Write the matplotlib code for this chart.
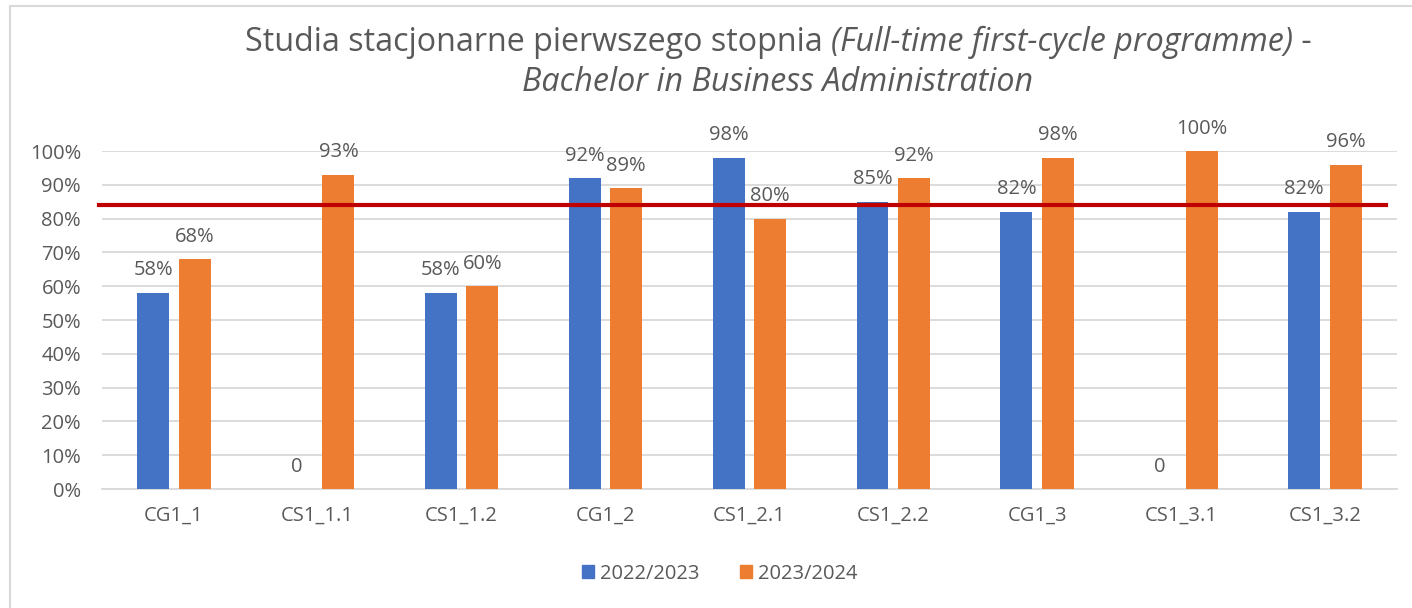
import numpy as np
import matplotlib.pyplot as plt
from matplotlib.offsetbox import TextArea, HPacker, VPacker, AnchoredOffsetbox
from matplotlib.patches import Patch
from matplotlib.lines import Line2D
from matplotlib.ticker import PercentFormatter

# chart data
categories = ["CG1_1", "CS1_1.1", "CS1_1.2", "CG1_2", "CS1_2.1", "CS1_2.2", "CG1_3", "CS1_3.1", "CS1_3.2"]
series_names = ["2022/2023", "2023/2024"]
vals_2223 = [58, 0, 58, 92, 98, 85, 82, 0, 82]
vals_2324 = [68, 93, 60, 89, 80, 92, 98, 100, 96]
threshold = 84

blue = "#4472c4"
orange = "#ed7d31"
grey_txt = "#595959"
grid_col = "#d9d9d9"

plt.rcParams['font.family'] = ['Open Sans', 'DejaVu Sans']

fig = plt.figure(figsize=(14.12, 6.08), dpi=100)
ax = fig.add_axes([0.0722, 0.1957, 0.917, 0.5559])

x = np.arange(len(categories))
w = 0.222
off = 0.144
b1 = ax.bar(x - off, vals_2223, w, color=blue, zorder=3)
b2 = ax.bar(x + off, vals_2324, w, color=orange, zorder=3)

for bars, vals in ((b1, vals_2223), (b2, vals_2324)):
    for r, v in zip(bars, vals):
        lab = f"{v}%" if v else "0"
        ax.annotate(lab, (r.get_x() + r.get_width() / 2, v), xytext=(0, 9),
                    textcoords="offset points", ha="center", va="bottom",
                    fontsize=14.5, color=grey_txt)

# target line
ax.axhline(threshold, xmin=-0.002, xmax=0.992, color="#c00000", lw=3, zorder=4, clip_on=False)

ax.set_xlim(-0.5, len(categories) - 0.5)
ax.set_ylim(0, 100)
ax.set_yticks(np.arange(0, 101, 10))
ax.yaxis.set_major_formatter(PercentFormatter(decimals=0))
ax.set_xticks(x)
ax.set_xticklabels(categories)
ax.tick_params(axis="both", length=0, labelsize=14.5, colors=grey_txt)
ax.tick_params(axis="x", pad=12)
ax.tick_params(axis="y", pad=15)
ax.grid(axis="y", color=grid_col, lw=1.3, zorder=0)
for s in ["top", "right", "left"]:
    ax.spines[s].set_visible(False)
ax.spines["bottom"].set_color(grid_col)
ax.spines["bottom"].set_linewidth(1.3)

# title with mixed italic
tkw = dict(fontsize=23.2, color=grey_txt)
line1 = HPacker(children=[
    TextArea("Studia stacjonarne pierwszego stopnia ", textprops=tkw),
    TextArea("(Full-time first-cycle programme)", textprops=dict(style="italic", **tkw)),
    TextArea(" -", textprops=tkw),
], pad=0, sep=0)
line2 = TextArea("Bachelor in Business Administration", textprops=dict(style="italic", **tkw))
title_box = VPacker(children=[line1, line2], align="center", pad=0, sep=5)
anch = AnchoredOffsetbox(loc="center", child=title_box, frameon=False,
                         bbox_to_anchor=(0.551, 0.898), bbox_transform=fig.transFigure)
fig.add_artist(anch)

# legend
handles = [Patch(color=blue), Patch(color=orange)]
fig.legend(handles, series_names, loc="center", bbox_to_anchor=(0.51, 0.056), ncol=2,
           frameon=False, fontsize=14.5, labelcolor=grey_txt, handlelength=0.6,
           handleheight=0.6, columnspacing=2.0, handletextpad=0.3)

# chart border (top and left visible)
fig.add_artist(Line2D([10 / 1412, 1], [1 - 6 / 608, 1 - 6 / 608], color=grid_col, lw=1.5))
fig.add_artist(Line2D([10 / 1412, 10 / 1412], [0, 1 - 6 / 608], color=grid_col, lw=1.5))

fig.savefig("out.png", dpi=100)
